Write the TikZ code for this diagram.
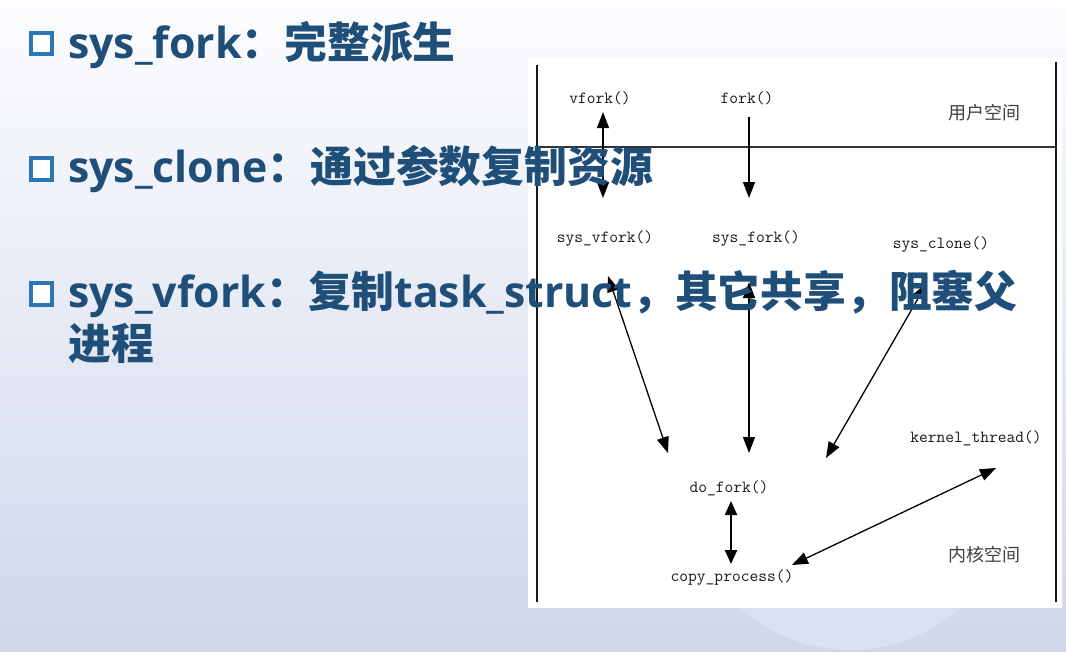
\documentclass[tikz,border=0pt]{standalone}
\usepackage{fontspec}
\newfontfamily\cjk{Noto Sans CJK SC}
\newfontfamily\lat{Open Sans}
\usetikzlibrary{arrows.meta,calc}
\definecolor{bgtop}{RGB}{252,253,255}
\definecolor{bgbot}{RGB}{208,215,234}
\definecolor{wmcol}{RGB}{220,225,241}
\definecolor{txtblue}{RGB}{31,78,121}
\definecolor{sqblue}{RGB}{46,117,182}
\definecolor{dgray}{RGB}{25,25,25}
\newcommand\enpart[1]{{\lat\bfseries #1}}
\newcommand\zhpart[1]{{\cjk\bfseries #1}}
\tikzset{
  bul/.style={draw=sqblue, fill=white, line width=3.6pt, minimum size=21.5pt, inner sep=0pt},
  bigtxt/.style={anchor=base west, inner sep=0pt, text=txtblue, font=\fontsize{42.8}{52}\selectfont},
  tt/.style={inner sep=0pt, text height=12pt, text depth=4pt, text=dgray, font=\ttfamily\fontsize{17}{17}\selectfont},
  zh/.style={inner sep=0pt, text=black!75, font=\cjk\fontsize{18}{18}\selectfont},
  frame/.style={line width=1.7pt, draw=black!90},
  sepline/.style={line width=1.7pt, draw=black!80},
  arr/.style={line width=1.3pt, draw=black, -{Triangle[length=16pt,width=12pt]}},
  darr/.style={line width=1.3pt, draw=black, {Triangle[length=16pt,width=12pt]}-{Triangle[length=16pt,width=12pt]}},
  thickdarr/.style={line width=2.2pt, draw=black, {Triangle[length=14pt,width=12pt]}-{Triangle[length=14pt,width=12pt]}}
}
\begin{document}
\begin{tikzpicture}[x=1pt,y=-1pt]
\useasboundingbox (0,0) rectangle (1066,651);
% background
\shade[top color=bgtop, bottom color=bgbot] (0,0) rectangle (1066,651);
\fill[wmcol] (850,485) circle[radius=165pt];
% diagram panel
\fill[white] (528,58) rectangle (1062,608);
\draw[frame] (537,65) -- (537,602);
\draw[frame] (1056,62) -- (1056,602);
\draw[sepline] (537,147) -- (1057,147);

% diagram nodes
\node[tt] (vfork) at (600,99) {vfork()};
\node[tt] (fork) at (747,99) {fork()};
\node[zh] (user) at (984,113) {用户空间};
\node[tt] (sysvfork) at (605,238) {sys\_vfork()};
\node[tt] (sysfork) at (756,238) {sys\_fork()};
\node[tt] (sysclone) at (941,244) {sys\_clone()};
\node[tt] (kthread) at (976,438) {kernel\_thread()};
\node[tt] (dofork) at (729,488) {do\_fork()};
\node[tt] (copyp) at (732,577) {copy\_process()};
\node[zh] (kernel) at (984,555) {内核空间};

% connectors
\draw[darr] ($(vfork)+(3,13)$) -- ($(sysvfork)+(-2,-40)$);
\draw[arr] ($(fork)+(2,18)$) -- ($(sysfork)+(-7,-40)$);
\draw[darr] ($(sysvfork)+(3,38)$) -- ($(dofork)+(-61,-35)$);
\draw[darr] ($(sysfork)+(-7,44)$) -- ($(dofork)+(20,-35)$);
\draw[darr] ($(sysclone)+(-14,39)$) -- ($(dofork)+(97,-30)$);
\draw[thickdarr] ($(dofork)+(2,13)$) -- ($(copyp)+(-1,-13)$);
\draw[darr] ($(copyp)+(60,-12)$) -- ($(kthread)+(20,30)$);

% bullets and text
\node[bul] (s1) at (41.5,43.5) {};
\node[bul] (s2) at (41.5,169) {};
\node[bul] (s3) at (41.5,294) {};
\node[bigtxt] (t1) at (68,58) {\enpart{sys\_fork}\zhpart{：完整派生}};
\node[bigtxt] (t2) at (68,182) {\enpart{sys\_clone}\zhpart{：通过参数复制资源}};
\node[bigtxt] (t3) at (68,307) {\enpart{sys\_vfork}\zhpart{：复制}\enpart{task\_struct}\zhpart{，其它共享，阻塞父}};
\node[bigtxt] (t3b) at (68,359) {\zhpart{进程}};
\end{tikzpicture}
\end{document}
